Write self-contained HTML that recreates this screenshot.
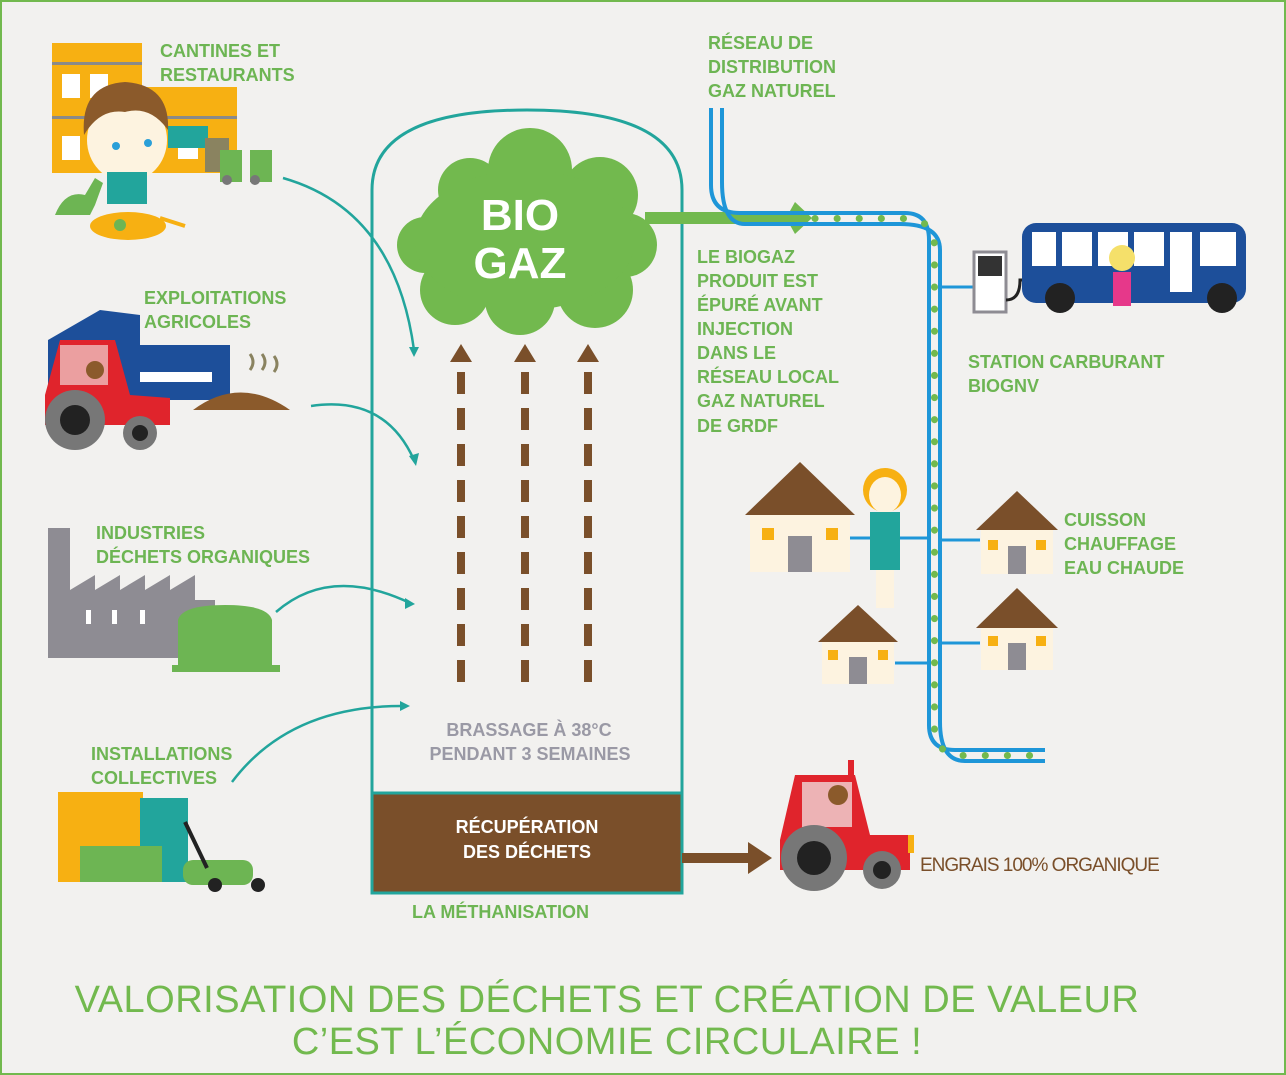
<!DOCTYPE html>
<html><head><meta charset="utf-8"><style>
html,body{margin:0;padding:0;background:#f2f1ef;}
svg{display:block}
text{font-family:"Liberation Sans",sans-serif;}
.g{fill:#6db553;font-size:18px;font-weight:bold;}
</style></head><body>
<svg width="1286" height="1075" viewBox="0 0 1286 1075" xmlns="http://www.w3.org/2000/svg">
<rect x="1" y="1" width="1284" height="1073" fill="#f2f1ef" stroke="#72b94e" stroke-width="2"/>

<!-- Cantines illustration -->
<rect x="52" y="43" width="90" height="130" fill="#f7b012"/>
<rect x="52" y="62" width="90" height="3" fill="#8a8a8a"/>
<rect x="142" y="87" width="95" height="86" fill="#f7b012"/>
<rect x="52" y="116" width="185" height="3" fill="#8a8a8a"/>
<rect x="62" y="74" width="18" height="24" fill="#fff"/><rect x="90" y="74" width="18" height="24" fill="#fff"/>
<rect x="62" y="136" width="18" height="24" fill="#fff"/><rect x="178" y="145" width="20" height="14" fill="#fff"/>
<rect x="168" y="126" width="40" height="22" fill="#22a59c"/>
<rect x="205" y="138" width="24" height="34" fill="#8a8360"/>
<rect x="220" y="150" width="22" height="32" fill="#6db553"/><rect x="250" y="150" width="22" height="32" fill="#6db553"/>
<circle cx="227" cy="180" r="5" fill="#777"/><circle cx="255" cy="180" r="5" fill="#777"/>
<ellipse cx="127" cy="140" rx="40" ry="42" fill="#fdf3e0"/>
<path d="M84 135 Q80 85 125 82 Q170 85 168 130 Q150 105 125 112 Q100 108 84 135Z" fill="#8b5a2b"/>
<circle cx="116" cy="146" r="4" fill="#2a9fd8"/><circle cx="148" cy="143" r="4" fill="#2a9fd8"/>
<rect x="107" y="172" width="40" height="32" fill="#22a59c"/>
<path d="M55 215 Q65 190 85 195 L95 178 L103 183 L95 205 L90 215Z" fill="#6db553"/>
<ellipse cx="128" cy="226" rx="38" ry="14" fill="#f7b012"/>
<circle cx="120" cy="225" r="6" fill="#6db553"/>
<line x1="160" y1="218" x2="185" y2="226" stroke="#f7b012" stroke-width="4"/>
<text class="g" x="160" y="57">CANTINES ET</text><text class="g" x="160" y="81">RESTAURANTS</text>

<!-- Exploitations agricoles -->
<path d="M48 340 L100 310 L140 315 L140 345 L230 345 L230 400 L48 400Z" fill="#1d4f9a"/>
<rect x="140" y="372" width="72" height="10" fill="#fff"/>
<path d="M45 395 L60 340 L115 340 L130 395 L170 398 L170 425 L45 425Z" fill="#e0242c"/>
<rect x="60" y="345" width="48" height="40" fill="#f2f1ef" opacity=".6"/>
<circle cx="95" cy="370" r="9" fill="#8b5a2b"/>
<circle cx="75" cy="420" r="30" fill="#777"/><circle cx="75" cy="420" r="15" fill="#222"/>
<circle cx="140" cy="433" r="17" fill="#777"/><circle cx="140" cy="433" r="8" fill="#222"/>
<path d="M193 410 Q240 375 290 410Z" fill="#8b5a2b"/>
<path d="M250 370 q6 -8 0 -16 M262 370 q6 -8 0 -16 M274 372 q6 -8 0 -16" stroke="#8a8360" stroke-width="3" fill="none"/>
<text class="g" x="144" y="304">EXPLOITATIONS</text><text class="g" x="144" y="328">AGRICOLES</text>

<!-- Industries -->
<path d="M48 528 L70 528 L70 590 L95 575 L95 590 L120 575 L120 590 L145 575 L145 590 L170 575 L170 590 L195 575 L195 600 L215 600 L215 658 L48 658Z" fill="#8e8c93"/>
<rect x="86" y="610" width="5" height="14" fill="#fff"/><rect x="112" y="610" width="5" height="14" fill="#fff"/><rect x="140" y="610" width="5" height="14" fill="#fff"/>
<path d="M178 620 Q182 605 225 605 Q268 605 272 620 L272 665 L178 665Z" fill="#6db553"/>
<rect x="172" y="665" width="108" height="7" fill="#6db553"/>
<text class="g" x="96" y="539">INDUSTRIES</text><text class="g" x="96" y="563">DÉCHETS ORGANIQUES</text>

<!-- Installations collectives -->
<rect x="58" y="792" width="85" height="90" fill="#f7b012"/>
<rect x="140" y="798" width="48" height="84" fill="#22a59c"/>
<rect x="80" y="846" width="82" height="36" fill="#6db553"/>
<rect x="183" y="860" width="70" height="25" rx="10" fill="#6db553"/>
<line x1="185" y1="822" x2="207" y2="868" stroke="#222" stroke-width="4"/>
<circle cx="215" cy="885" r="7" fill="#222"/><circle cx="258" cy="885" r="7" fill="#222"/>
<text class="g" x="91" y="760">INSTALLATIONS</text><text class="g" x="91" y="784">COLLECTIVES</text>

<!-- Input arrows -->
<g stroke="#22a59c" stroke-width="2.5" fill="none">
<path d="M283 178 Q395 210 414 350"/>
<path d="M311 406 Q385 395 414 460"/>
<path d="M276 612 Q330 565 410 603"/>
<path d="M232 782 Q290 705 405 706"/>
</g>
<g fill="#22a59c">
<path d="M409 347 L414 357 L419 347Z"/><path d="M409 456 L416 466 L419 453Z"/>
<path d="M405 598 L415 604 L405 609Z"/><path d="M400 701 L410 706 L400 711Z"/>
</g>

<!-- Digester -->
<path d="M372 893 L372 190 Q372 110 527 110 Q682 110 682 190 L682 893Z" fill="none" stroke="#22a59c" stroke-width="3"/>
<rect x="372" y="793" width="310" height="100" fill="#7a4f2a" stroke="#22a59c" stroke-width="3"/>
<text x="527" y="833" text-anchor="middle" fill="#fff" font-size="18" font-weight="bold">RÉCUPÉRATION</text>
<text x="527" y="858" text-anchor="middle" fill="#fff" font-size="18" font-weight="bold">DES DÉCHETS</text>
<text x="529" y="736" text-anchor="middle" fill="#9a99a5" font-size="18" font-weight="bold">BRASSAGE À 38°C</text>
<text x="530" y="760" text-anchor="middle" fill="#9a99a5" font-size="18" font-weight="bold">PENDANT 3 SEMAINES</text>
<text class="g" x="412" y="918">LA MÉTHANISATION</text>

<!-- dashed arrows -->
<g stroke="#7a4f2a" stroke-width="8" stroke-dasharray="22 14">
<line x1="461" y1="372" x2="461" y2="690"/><line x1="525" y1="372" x2="525" y2="690"/><line x1="588" y1="372" x2="588" y2="690"/>
</g>
<g fill="#7a4f2a"><path d="M450 362 L461 344 L472 362Z"/><path d="M514 362 L525 344 L536 362Z"/><path d="M577 362 L588 344 L599 362Z"/></g>

<!-- Cloud -->
<g fill="#72b94e">
<circle cx="470" cy="190" r="32"/><circle cx="530" cy="170" r="42"/><circle cx="600" cy="195" r="38"/>
<circle cx="625" cy="245" r="32"/><circle cx="595" cy="290" r="38"/><circle cx="520" cy="300" r="35"/>
<circle cx="455" cy="290" r="35"/><circle cx="425" cy="245" r="28"/><ellipse cx="525" cy="240" rx="110" ry="70"/>
</g>
<text x="520" y="230" text-anchor="middle" fill="#fff" font-size="44" font-weight="bold">BIO</text>
<text x="520" y="278" text-anchor="middle" fill="#fff" font-size="44" font-weight="bold">GAZ</text>
<rect x="645" y="212" width="150" height="12" fill="#72b94e"/>
<path d="M795 202 L812 218 L795 234 L786 218Z" fill="#72b94e"/>

<!-- Pipe -->
<g fill="none" stroke="#1e96d8" stroke-width="4">
<path d="M711 108 L711 185 Q711 213 740 213 L905 213 Q929 213 929 240 L929 725 Q929 750 955 750 L1045 750"/>
<path d="M722 108 L722 182 Q722 224 745 224 L900 224 Q940 224 940 250 L940 722 Q940 761 965 761 L1045 761"/>
</g>
<path d="M815 218.5 L905 218.5 Q934.5 218.5 934.5 248 L934.5 728 Q934.5 755.5 965 755.5 L1045 755.5" fill="none" stroke="#72b94e" stroke-width="7" stroke-dasharray="0.1 22" stroke-linecap="round"/>

<text class="g" x="708" y="49">RÉSEAU DE</text><text class="g" x="708" y="73">DISTRIBUTION</text><text class="g" x="708" y="97">GAZ NATUREL</text>
<text class="g" x="697" y="263">LE BIOGAZ</text><text class="g" x="697" y="287">PRODUIT EST</text><text class="g" x="697" y="311">ÉPURÉ AVANT</text><text class="g" x="697" y="335">INJECTION</text><text class="g" x="697" y="359">DANS LE</text><text class="g" x="697" y="383">RÉSEAU LOCAL</text><text class="g" x="697" y="407">GAZ NATUREL</text><text class="g" x="697" y="432">DE GRDF</text>

<!-- Station & bus -->
<line x1="940" y1="287" x2="975" y2="287" stroke="#1e96d8" stroke-width="3"/>
<rect x="974" y="252" width="32" height="60" fill="#fff" stroke="#8e8c93" stroke-width="3"/>
<rect x="978" y="256" width="24" height="20" fill="#333"/>
<path d="M1006 300 Q1020 300 1020 280 L1035 280" stroke="#222" stroke-width="3" fill="none"/>
<rect x="1022" y="223" width="224" height="80" rx="14" fill="#1d4f9a"/>
<g fill="#fff"><rect x="1032" y="232" width="24" height="34"/><rect x="1062" y="232" width="30" height="34"/><rect x="1098" y="232" width="30" height="34"/><rect x="1134" y="232" width="30" height="34"/><rect x="1170" y="232" width="22" height="60"/><rect x="1200" y="232" width="36" height="34"/></g>
<circle cx="1060" cy="298" r="15" fill="#222"/><circle cx="1222" cy="298" r="15" fill="#222"/>
<circle cx="1122" cy="258" r="13" fill="#f5e06a"/><rect x="1113" y="272" width="18" height="34" fill="#e6388a"/>
<text class="g" x="968" y="368">STATION CARBURANT</text><text class="g" x="968" y="392">BIOGNV</text>

<!-- Houses -->
<g>
<line x1="850" y1="538" x2="929" y2="538" stroke="#1e96d8" stroke-width="3"/>
<line x1="940" y1="540" x2="980" y2="540" stroke="#1e96d8" stroke-width="3"/>
<line x1="895" y1="663" x2="929" y2="663" stroke="#1e96d8" stroke-width="3"/>
<line x1="940" y1="643" x2="980" y2="643" stroke="#1e96d8" stroke-width="3"/>
<path d="M745 515 L800 462 L855 515Z" fill="#7a4f2a"/><rect x="750" y="515" width="100" height="57" fill="#fdf3e0"/><rect x="788" y="536" width="24" height="36" fill="#8e8c93"/><rect x="762" y="528" width="12" height="12" fill="#f7b012"/><rect x="826" y="528" width="12" height="12" fill="#f7b012"/>
<path d="M976 530 L1017 491 L1058 530Z" fill="#7a4f2a"/><rect x="981" y="530" width="72" height="44" fill="#fdf3e0"/><rect x="1008" y="546" width="18" height="28" fill="#8e8c93"/><rect x="988" y="540" width="10" height="10" fill="#f7b012"/><rect x="1036" y="540" width="10" height="10" fill="#f7b012"/>
<path d="M818 642 L858 605 L898 642Z" fill="#7a4f2a"/><rect x="822" y="642" width="72" height="42" fill="#fdf3e0"/><rect x="849" y="657" width="18" height="27" fill="#8e8c93"/><rect x="828" y="650" width="10" height="10" fill="#f7b012"/><rect x="878" y="650" width="10" height="10" fill="#f7b012"/>
<path d="M976 628 L1017 588 L1058 628Z" fill="#7a4f2a"/><rect x="981" y="628" width="72" height="42" fill="#fdf3e0"/><rect x="1008" y="643" width="18" height="27" fill="#8e8c93"/><rect x="988" y="636" width="10" height="10" fill="#f7b012"/><rect x="1036" y="636" width="10" height="10" fill="#f7b012"/>
</g>
<circle cx="885" cy="490" r="22" fill="#f7b012"/><ellipse cx="885" cy="495" rx="16" ry="18" fill="#fdf3e0"/>
<rect x="870" y="512" width="30" height="58" fill="#22a59c"/><rect x="876" y="570" width="18" height="38" fill="#fdf3e0"/>
<text class="g" x="1064" y="526">CUISSON</text><text class="g" x="1064" y="550">CHAUFFAGE</text><text class="g" x="1064" y="574">EAU CHAUDE</text>

<!-- Output tractor -->
<rect x="682" y="853" width="68" height="10" fill="#7a4f2a"/>
<path d="M748 842 L772 858 L748 874Z" fill="#7a4f2a"/>
<path d="M780 840 L795 775 L855 775 L870 835 L910 835 L910 870 L780 870Z" fill="#e0242c"/>
<rect x="848" y="760" width="6" height="16" fill="#e0242c"/>
<rect x="802" y="782" width="50" height="45" fill="#f2f1ef" opacity=".7"/>
<circle cx="838" cy="795" r="10" fill="#8b5a2b"/>
<circle cx="814" cy="858" r="33" fill="#777"/><circle cx="814" cy="858" r="17" fill="#222"/>
<circle cx="882" cy="870" r="19" fill="#777"/><circle cx="882" cy="870" r="9" fill="#222"/>
<rect x="908" y="835" width="6" height="18" fill="#f7b012"/>
<text x="920" y="871" fill="#7a4f2a" font-size="19" letter-spacing="-1">ENGRAIS 100% ORGANIQUE</text>

<!-- Title -->
<text x="607" y="1012" text-anchor="middle" fill="#72b94e" font-size="38" letter-spacing="0.5">VALORISATION DES DÉCHETS ET CRÉATION DE VALEUR</text>
<text x="607" y="1054" text-anchor="middle" fill="#72b94e" font-size="38" letter-spacing="0.5">C’EST L’ÉCONOMIE CIRCULAIRE !</text>
</svg>
</body></html>
